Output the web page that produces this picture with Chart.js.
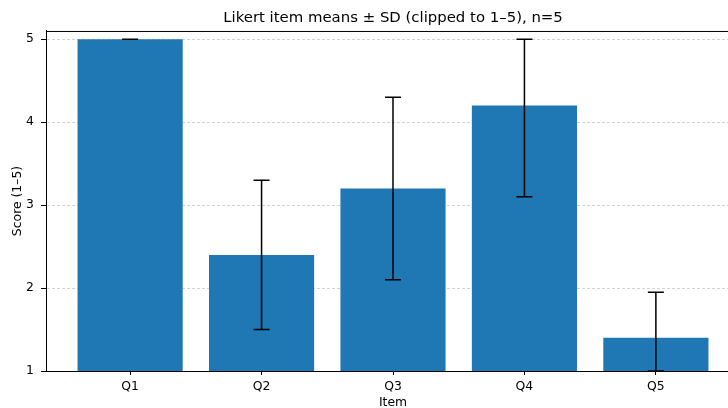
<!DOCTYPE html>
<html>
<head>
<meta charset="utf-8">
<script src="https://cdn.jsdelivr.net/npm/chart.js@4/dist/chart.umd.min.js"></script>
<style>
    html, body { margin: 0; padding: 0; background: #fff; overflow: hidden; }
    #wrap { width: 742px; height: 408px; position: relative; }
</style>
</head>
<body>
<div id="wrap"><canvas id="likertChart"></canvas></div>
<script>
const items = ["Q1", "Q2", "Q3", "Q4", "Q5"];
const means = [5.0, 2.4, 3.2, 4.2, 1.4];
const errLow = [5.0, 1.5, 2.1, 3.1, 1.0];
const errHigh = [5.0, 3.3, 4.3, 5.0, 1.95];
const yTicks = [1, 2, 3, 4, 5];

const barColor = "#1f77b4";
const fontFamily = "'DejaVu Sans', sans-serif";

// error bars + top spine, drawn through the chart scales
const errorBarPlugin = {
    id: "errorBars",
    afterLayout(chart) {
        // center the title over the plot area, not the whole canvas
        const t = chart.titleBlock;
        if (t) {
            t.left = chart.chartArea.left;
            t.right = chart.chartArea.right;
        }
    },
    afterDatasetsDraw(chart) {
        const { ctx, scales: { x, y }, chartArea } = chart;
        ctx.save();
        ctx.strokeStyle = "#000";
        ctx.lineWidth = 1.5;
        items.forEach((_, i) => {
            const px = x.getPixelForValue(i);
            const lo = y.getPixelForValue(errLow[i]);
            const hi = y.getPixelForValue(errHigh[i]);
            ctx.beginPath();
            ctx.moveTo(px, lo);
            ctx.lineTo(px, hi);
            ctx.moveTo(px - 8, lo);
            ctx.lineTo(px + 8, lo);
            ctx.moveTo(px - 8, hi);
            ctx.lineTo(px + 8, hi);
            ctx.stroke();
        });
        ctx.lineWidth = 1;
        ctx.beginPath();
        ctx.moveTo(chartArea.left, chartArea.top + 0.5);
        ctx.lineTo(chartArea.right, chartArea.top + 0.5);
        ctx.moveTo(chartArea.right - 0.5, chartArea.top);
        ctx.lineTo(chartArea.right - 0.5, chartArea.bottom);
        ctx.stroke();
        ctx.restore();
    }
};

const ctx = document.getElementById("likertChart").getContext("2d");
new Chart(ctx, {
    type: "bar",
    data: {
        datasets: [{
            data: means.map((v, i) => ({ x: i, y: v })),
            backgroundColor: barColor,
            borderWidth: 0,
            categoryPercentage: 1.0,
            barPercentage: 0.8
        }]
    },
    options: {
        responsive: true,
        maintainAspectRatio: false,
        animation: false,
        layout: { padding: { left: 0, right: 2, top: 0, bottom: 0 } },
        plugins: {
            legend: { display: false },
            tooltip: { enabled: false },
            title: {
                display: true,
                text: "Likert item means ± SD (clipped to 1–5), n=5",
                color: "#000",
                font: { family: fontFamily, size: 14.9, weight: "normal" },
                padding: { top: 9.5, bottom: 3.6 }
            }
        },
        scales: {
            x: {
                type: "linear",
                offset: false,
                min: -0.64,
                max: 4.64,
                afterBuildTicks: s => { s.ticks = items.map((_, i) => ({ value: i })); },
                afterFit: s => { s.height = 37; },
                ticks: {
                    callback: v => items[v],
                    color: "#000",
                    font: { family: fontFamily, size: 12.4 },
                    padding: 4,
                    maxRotation: 0,
                    autoSkip: false
                },
                grid: { offset: false, drawOnChartArea: false, drawTicks: true, tickLength: 4, tickColor: "#000", tickWidth: 1 },
                border: { display: true, color: "#000", width: 1 },
                title: {
                    display: true,
                    text: "Item",
                    color: "#000",
                    font: { family: fontFamily, size: 12.4 },
                    padding: { top: 0, bottom: -2 }
                }
            },
            y: {
                min: 1,
                max: 5.1,
                afterBuildTicks: s => { s.ticks = yTicks.map(v => ({ value: v })); },
                afterFit: s => { s.width = 46; },
                ticks: {
                    color: "#000",
                    font: { family: fontFamily, size: 12.4 },
                    padding: 7
                },
                grid: {
                    color: "rgba(176,176,176,0.7)",
                    lineWidth: 0.8,
                    tickLength: 5,
                    tickColor: "#000",
                    tickWidth: 1,
                    tickBorderDash: []
                },
                border: { display: true, color: "#000", width: 1, dash: [3, 2] },
                title: {
                    display: true,
                    text: "Score (1–5)",
                    color: "#000",
                    font: { family: fontFamily, size: 12.4 },
                    padding: { top: 10.5, bottom: 0 }
                }
            }
        }
    },
    plugins: [errorBarPlugin]
});
</script>
</body>
</html>
